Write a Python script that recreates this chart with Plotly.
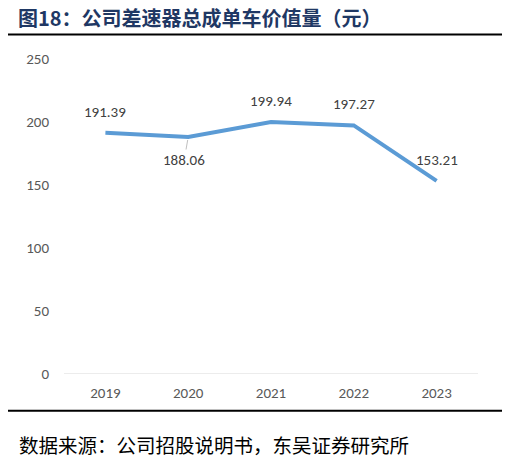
import plotly.graph_objects as go

# --- data ---
years = ["2019", "2020", "2021", "2022", "2023"]
values = [191.39, 188.06, 199.94, 197.27, 153.21]
y_ticks = [0, 50, 100, 150, 200, 250]

title_text = "图18：公司差速器总成单车价值量（元）"
source_text = "数据来源：公司招股说明书，东吴证券研究所"

fig = go.Figure()

fig.add_trace(go.Scatter(
    x=years, y=values,
    mode="lines",
    line=dict(color="#5B9BD5", width=4),
    hoverinfo="skip",
))

# data labels; 2020 sits below the line with a small grey leader
# (annotation x is the category index, strings get read as numbers)
for i, v in enumerate(values):
    below = years[i] == "2020"
    fig.add_annotation(
        x=i, y=v, text=f"{v:.2f}",
        showarrow=below, arrowhead=0, arrowwidth=1, arrowcolor="#BFBFBF",
        standoff=3, ax=-4 if below else 0, ay=23 if below else 0,
        yshift=0 if below else 21,
        font=dict(family="Carlito, Liberation Sans, Arial", size=15, color="#404040"),
    )

# title, rules and source note
fig.add_annotation(
    xref="paper", yref="paper", x=-0.1135, y=1.131, xanchor="left", yanchor="middle",
    text=f"<b>{title_text}</b>", showarrow=False, borderpad=0,
    font=dict(family="Noto Sans CJK SC", size=20, color="#1F3864"),
)
fig.add_shape(type="line", xref="paper", yref="paper",
              x0=-0.1425, x1=1.063, y0=1.078, y1=1.078,
              line=dict(color="#000000", width=2))
fig.add_shape(type="line", xref="paper", yref="paper",
              x0=-0.1425, x1=1.063, y0=-0.1165, y1=-0.1165,
              line=dict(color="#000000", width=2))
fig.add_annotation(
    xref="paper", yref="paper", x=-0.1135, y=-0.2238, xanchor="left", yanchor="middle",
    text=source_text, showarrow=False,
    font=dict(family="Noto Sans CJK SC", size=19.5, color="#000000"),
)

fig.update_layout(
    width=510, height=458,
    margin=dict(l=56, r=40, t=51, b=92),
    paper_bgcolor="white", plot_bgcolor="white",
    showlegend=False,
    font=dict(family="Carlito, Liberation Sans, Arial", size=15, color="#595959"),
    xaxis=dict(
        type="category", categoryorder="array", categoryarray=years,
        range=[-0.5, len(years) - 0.5],
        showgrid=False, showline=False, zeroline=False, ticks="",
        ticklabelstandoff=8,
        tickfont=dict(size=15, color="#595959"),
    ),
    yaxis=dict(
        range=[0, 250], tickvals=y_ticks, showgrid=False, zeroline=False,
        showline=False, ticks="", ticklabelstandoff=14,
        tickfont=dict(size=15, color="#595959"),
    ),
)
fig.add_shape(type="line", xref="paper", yref="y", x0=0, x1=1, y0=0, y1=0,
              line=dict(color="#D9D9D9", width=1))

fig.write_html("out.html")
